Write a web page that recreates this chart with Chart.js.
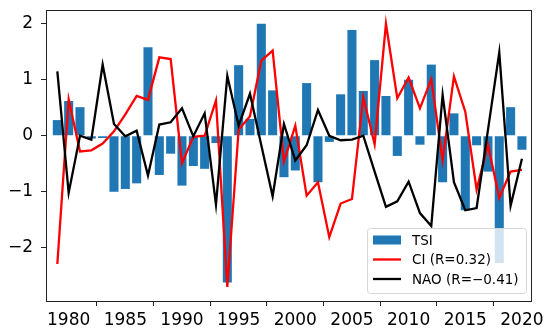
<!DOCTYPE html>
<html>
<head>
<meta charset="utf-8">
<script src="https://cdn.jsdelivr.net/npm/chart.js@4"></script>
<style>
  body { margin: 0; background: #fff; }
  canvas { display: block; }
</style>
</head>
<body>
<canvas id="myChart" width="550" height="336"></canvas>
<script>
const years = [1979, 1980, 1981, 1982, 1983, 1984, 1985, 1986, 1987, 1988, 1989,
  1990, 1991, 1992, 1993, 1994, 1995, 1996, 1997, 1998, 1999,
  2000, 2001, 2002, 2003, 2004, 2005, 2006, 2007, 2008, 2009,
  2010, 2011, 2012, 2013, 2014, 2015, 2016, 2017, 2018, 2019, 2020];

const tsi = [0.28, 0.62, 0.51, -0.05, -0.04, -1.0, -0.95, -0.85, 1.58, -0.70, -0.32,
  -0.89, -0.54, -0.59, -0.13, -2.62, 1.26, 0.30, 2.0, 0.81, -0.74,
  -0.62, 0.94, -0.83, -0.11, 0.74, 1.89, 0.80, 1.35, 0.71, -0.36,
  1.0, -0.16, 1.27, -0.83, 0.40, -1.33, -0.17, -0.64, -2.27, 0.51, -0.25];

const ci = [-2.29, 0.65, -0.28, -0.26, -0.14, 0.08, 0.38, 0.71, 0.64, 1.40, 1.37,
  -0.49, -0.02, 0.0, 0.63, -2.70, 0.11, 0.35, 1.34, 1.52, -0.46,
  0.18, -1.07, -0.83, -1.81, -1.21, -1.13, 0.69, -0.15, 2.0, 0.67,
  1.04, 0.49, 1.01, -0.44, 1.06, 0.43, -0.96, -0.16, -1.11, -0.64, -0.61];

const nao = [1.15, -1.02, 0.0, -0.07, 1.27, 0.21, -0.01, 0.09, -0.71, 0.20, 0.24,
  0.49, -0.01, 0.40, -1.23, 1.07, 0.18, 0.75, -0.17, -1.08, 0.21,
  -0.44, -0.17, 0.46, 0.0, -0.08, -0.07, 0.0, -0.64, -1.27, -1.17,
  -0.82, -1.38, -1.61, 0.73, -0.83, -1.33, -1.29, 0.10, 1.49, -1.25, -0.41];

const seriesNames = ['TSI', 'CI (R=0.32)', 'NAO (R=\u22120.41)'];
const xTicks = [1980, 1985, 1990, 1995, 2000, 2005, 2010, 2015, 2020];
const yTicks = [-2, -1, 0, 1, 2];

function pts(arr) {
  return years.map((yr, i) => ({ x: yr, y: arr[i] }));
}

function minus(v) {
  return v < 0 ? '\u2212' + Math.abs(v) : '' + v;
}

const FONT = 'DejaVu Sans';

// box around the plot and the legend drawn inside it (matplotlib style)
const frameLegend = {
  id: 'frameLegend',
  afterDraw(chart) {
    const ctx = chart.ctx;
    const a = chart.chartArea;
    ctx.save();

    const bx = a.right - 164, by = a.bottom - 73, bw = 159, bh = 65;
    ctx.beginPath();
    ctx.roundRect(bx + 0.5, by + 0.5, bw, bh, 3);
    ctx.fillStyle = 'rgba(255,255,255,0.8)';
    ctx.fill();
    ctx.strokeStyle = '#d6d6d6';
    ctx.lineWidth = 1;
    ctx.stroke();

    ctx.font = '13.5px "' + FONT + '"';
    ctx.textBaseline = 'middle';
    ctx.textAlign = 'left';
    chart.data.datasets.forEach((ds, i) => {
      const cy = by + 12 + i * 19.5;
      if (ds.type === 'bar') {
        ctx.fillStyle = ds.backgroundColor;
        ctx.fillRect(bx + 6, cy - 4.5, 28, 9);
      } else {
        ctx.strokeStyle = ds.borderColor;
        ctx.lineWidth = ds.borderWidth;
        ctx.beginPath();
        ctx.moveTo(bx + 6, cy);
        ctx.lineTo(bx + 34, cy);
        ctx.stroke();
      }
      ctx.fillStyle = '#000';
      ctx.fillText(ds.label, bx + 45, cy + 1);
    });

    ctx.strokeStyle = '#222';
    ctx.lineWidth = 1;
    ctx.strokeRect(a.left + 0.5, a.top + 0.5, a.right - a.left, a.bottom - a.top);
    ctx.restore();
  }
};

const ctx1 = document.getElementById('myChart');
new Chart(ctx1, {
  data: {
    datasets: [
      {
        type: 'bar',
        label: seriesNames[0],
        data: pts(tsi),
        backgroundColor: '#1f77b4',
        barPercentage: 0.8,
        categoryPercentage: 1.0,
        order: 3
      },
      {
        type: 'line',
        label: seriesNames[1],
        data: pts(ci),
        borderColor: '#ff0000',
        borderWidth: 2.3,
        pointRadius: 0,
        tension: 0,
        fill: false,
        order: 2
      },
      {
        type: 'line',
        label: seriesNames[2],
        data: pts(nao),
        borderColor: '#000000',
        borderWidth: 2.3,
        pointRadius: 0,
        tension: 0,
        fill: false,
        order: 1
      }
    ]
  },
  options: {
    responsive: false,
    animation: false,
    layout: { padding: { top: 10, right: 19, left: 0, bottom: 0 } },
    plugins: {
      legend: { display: false },
      tooltip: { enabled: false }
    },
    scales: {
      x: {
        type: 'linear',
        offset: false,
        min: 1978,
        max: 2020.8,
        afterBuildTicks: (s) => { s.ticks = xTicks.map(v => ({ value: v })); },
        afterFit: (s) => { s.height = 35; s.paddingLeft = 0; s.paddingRight = 0; },
        grid: { display: true, drawOnChartArea: false, drawTicks: true, tickLength: 5, color: '#222' },
        border: { display: false },
        ticks: {
          color: '#000',
          padding: 4,
          maxRotation: 0,
          font: { family: FONT, size: 17 },
          callback: (v) => '' + v
        }
      },
      y: {
        type: 'linear',
        min: -2.95,
        max: 2.245,
        afterBuildTicks: (s) => { s.ticks = yTicks.map(v => ({ value: v })); },
        afterFit: (s) => { s.width = 46; s.paddingTop = 0; s.paddingBottom = 0; },
        grid: { display: true, drawOnChartArea: false, drawTicks: true, tickLength: 5, color: '#222' },
        border: { display: false },
        ticks: {
          color: '#000',
          padding: 8,
          font: { family: FONT, size: 17 },
          callback: (v) => minus(v)
        }
      }
    }
  },
  plugins: [frameLegend]
});
</script>
</body>
</html>
